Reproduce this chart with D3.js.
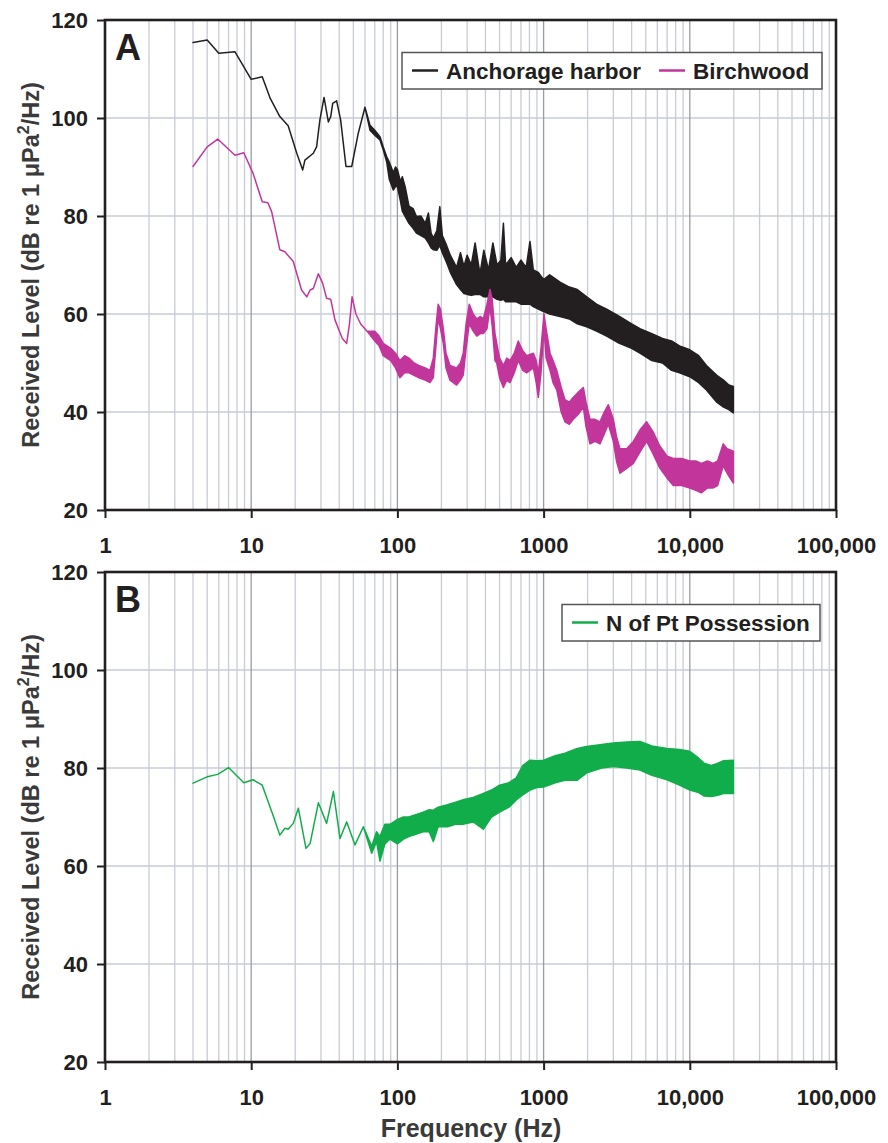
<!DOCTYPE html>
<html><head><meta charset="utf-8">
<script src="https://cdn.jsdelivr.net/npm/d3@7"></script>
<style>body{margin:0;background:#fff}svg{display:block}text{font-family:"Liberation Sans",Arial,sans-serif;font-weight:bold}</style>
</head><body>
<svg id="c" width="888" height="1143"></svg>
<script>
// ---- data ----
const xTicks = [1, 10, 100, 1000, 10000, 100000];
const xTickLabels = ["1", "10", "100", "1000", "10,000", "100,000"];
const yTicks = [20, 40, 60, 80, 100, 120];

const anchFreq = [4,5,6,7.75,10,11.9,13.5,15.7,17.9,20.5,22.5,23.3,26.6,28,29.5,31.5,33.7,35,36.1,38.4,40.9,44.5,48.7,54,60,65,70,76,80,84.5,88,93.8,97,100,105,108,113,120,128,135,145,155,163,170,176,186,195,203,217,230,254,270,285,300,320,340,367,390,420,450,480,510,531,550,600,650,700,760,807,850,920,1000,1100,1295,1500,1700,1972,2300,2700,3300,4000,4560,5500,6500,7500,8500,10000,11500,13000,15300,17000,18500,19860];
const anchHi = [115.4,115.9,113.2,113.5,107.9,108.4,104,100.3,98.4,92.8,89.4,91.4,92.8,94.1,99.6,104.2,99.2,100.3,103,103.5,99.6,90.1,90.1,96.9,102.2,98.5,97.5,96.2,94.1,92.1,91,88.8,90,89.5,87,88,86,82,81.5,79.9,80,78.5,80.6,76.5,75.5,77,81.9,76,74,72,69.5,72.5,69.7,72,70,74.5,68.2,73,69,74.5,70,71,78.5,70,71.5,69.5,71,69.5,74.8,69,68.5,67,68,66.5,65.5,65,63.5,62,61,59.5,58,57,56,55,54.5,53.5,52.7,51.5,49.5,47.5,46.5,45.5,45.2];
const anchLo = [115.4,115.9,113.2,113.5,107.9,108.4,104,100.3,98.4,92.8,89.4,91.4,92.8,94.1,99.6,104.2,99.2,100.3,103,103.5,99.6,90.1,90.1,96.9,102.2,97.5,96.5,95.5,93.5,91,87.5,85.3,86,86,83,81,79.9,78.5,77.5,76.5,76,75.5,74.5,73.5,73.1,73,74,72.5,70.5,68.5,66,65,64.2,64,63.8,64,64,63.5,63.5,63.5,63,62.8,63,62.5,62.5,62.5,62,62,62,61.5,61,60.5,60,59.5,59,58,57.4,56.5,55.5,54,53,52,50.5,50,48.5,48,47.2,46,44.5,42,41,40.5,39.8];

const birchFreq = [4,5,5.9,7.75,8.9,10.3,11.9,13,13.8,15.7,17,19.4,22.1,24,25.3,26.6,28.8,30.8,32.8,35,37.4,42,45,47,49,52,56,62,70,75,80,90,97,104,112,120,130,140,155,167,176,183,190,197,206,215,229,254,270,282,295,310,330,349,370,387,410,430,445,465,478,500,531,560,589,630,671,720,766,851,890,920,960,1006,1040,1107,1160,1230,1320,1400,1500,1597,1720,1870,1950,2077,2250,2430,2600,2770,3000,3150,3330,3700,4110,4600,5070,5600,6250,7000,7710,8800,10000,11000,12000,13200,14450,15500,16930,18000,19860];
const birchHi = [90.1,94.1,95.7,92.4,92.9,88.7,82.9,82.7,80.9,73.1,72.7,70.7,64.9,63.5,64.9,65.2,68.2,66.3,63.2,63,58.8,55,54,58,63.5,60,58,56.5,56.5,55.5,54,53,52,50.5,51.5,51,50,49.5,49,48.5,51,57,62,61,57,52,49.5,49,50,52,58,62,60,59,59.5,59,62,65,63,56,54,51,49.5,51,50.5,52,54.5,52.5,51.5,52,50.5,48,53,60,57,52,50.5,48.5,45,42.5,42,43,44,45,42,38.5,38.5,38,40,41.5,38.5,35,32.5,32.5,34,36.5,38,36,33,31,30.5,30.5,30,30,29.5,30,29.5,30,33.5,32.5,32];
const birchLo = [90.1,94.1,95.7,92.4,92.9,88.7,82.9,82.7,80.9,73.1,72.7,70.7,64.9,63.5,64.9,65.2,68.2,66.3,63.2,63,58.8,55,54,58,63.5,60,58,56.5,54.5,53.5,51.5,50.5,49,47,48,48,47.5,47,46.5,46,47,53,59,57,54,49,46.5,45.5,46.5,47.5,53,58,56.5,55.5,56,56,57,61.5,57.5,50.5,50,47,45,46.5,46,48,50.5,48.5,48,49,46,43,48,57,51,48.5,46,44.5,40,38,37.5,38.5,39.5,41,37,33.5,34,33.5,35.5,37.5,34,30,27.5,28.5,29.5,32,34,31.5,28.5,26.5,25,25,24.5,24,23.5,24.5,24.5,25,29,27.5,25.5];

const possFreq = [4,5,5.9,7,8.9,10.3,11.9,14.2,15.7,17,17.9,19.4,21,23.7,25.3,28.8,32.8,36.5,40.5,45,51.3,58.5,66.7,72,76,82,89,100,110,120,135,150,165,176,190,220,250,280,330,387,440,500,580,650,720,807,900,1000,1200,1400,1700,1972,2500,3000,3700,4560,5500,6980,8500,10000,11500,12500,14000,15300,17000,19860];
const possHi = [76.9,78.2,78.7,80.1,77,77.6,76.5,70.1,66.3,67.7,67.5,68.7,71.8,63.6,64.6,72.9,68.7,75.2,65.6,69,64.3,68,64,67,66,68.5,68.5,69.5,70,70,70.5,71,71.5,71.4,72,72.5,73,73.5,74,74.8,75.5,76.5,77,78,80.5,81.6,81.5,81.6,82.5,83,84,84.4,84.8,85.1,85.3,85.4,84.5,84,83.8,83.4,82,81,80.5,80.9,81.5,81.6];
const possLo = [76.9,78.2,78.7,80.1,77,77.6,76.5,70.1,66.3,67.7,67.5,68.7,71.8,63.6,64.6,72.9,68.7,75.2,65.6,69,64.3,68,62.6,65,61,64.5,65.5,64.5,65.5,66,66.5,67,67,65,68,68,68.5,68.5,69,67.5,70,71,72,73.5,74.5,75.5,76,76.1,77,77.5,77.5,79,80,80.3,80,79.6,78.5,77.6,76.5,75.5,75,74.3,74.2,74.4,74.8,74.8];

const seriesA = [
  {name: "Anchorage harbor", color: "#231f20", f: anchFreq, hi: anchHi, lo: anchLo},
  {name: "Birchwood", color: "#c2369b", f: birchFreq, hi: birchHi, lo: birchLo}
];
const seriesB = [
  {name: "N of Pt Possession", color: "#12ad4b", f: possFreq, hi: possHi, lo: possLo}
];

// ---- drawing ----
const svg = d3.select("#c");
const x = d3.scaleLog().domain([1, 100000]).range([105, 836]);
const FONT = '"Liberation Sans",Arial,sans-serif';

function minorTicks() {
  const out = [];
  for (let d = 1; d < 100000; d *= 10) for (let k = 2; k <= 9; k++) out.push(d * k);
  return out;
}

function panel(top, bottom, label, series, legend, idx) {
  const y = d3.scaleLinear().domain([20, 120]).range([bottom, top]);
  const g = svg.append("g");
  const clipId = "clip" + idx;
  svg.append("clipPath").attr("id", clipId).append("rect")
    .attr("x", 105).attr("y", top).attr("width", 731).attr("height", bottom - top);

  // grid
  g.selectAll(".hg").data(yTicks.slice(1, -1)).join("line")
    .attr("x1", 105).attr("x2", 836).attr("y1", d => y(d)).attr("y2", d => y(d))
    .attr("stroke", "#c8ccd6").attr("stroke-width", 1.3);
  g.selectAll(".mg").data(minorTicks()).join("line")
    .attr("x1", d => x(d)).attr("x2", d => x(d)).attr("y1", top).attr("y2", bottom)
    .attr("stroke", "#c8ccd6").attr("stroke-width", 1.3);
  g.selectAll(".Mg").data(xTicks.slice(1, -1)).join("line")
    .attr("x1", d => x(d)).attr("x2", d => x(d)).attr("y1", top).attr("y2", bottom)
    .attr("stroke", "#9a9ca3").attr("stroke-width", 1.3);

  // data
  const dg = g.append("g").attr("clip-path", `url(#${clipId})`);
  series.forEach(s => {
    const pts = s.f.map((f, i) => ({f, hi: s.hi[i], lo: s.lo[i]}));
    const area = d3.area().x(d => x(d.f)).y0(d => y(d.lo)).y1(d => y(d.hi));
    dg.append("path").datum(pts).attr("d", area)
      .attr("fill", s.color).attr("stroke", s.color).attr("stroke-width", 1.5)
      .attr("stroke-linejoin", "round");
  });

  // frame
  g.append("rect").attr("x", 105).attr("y", top).attr("width", 731).attr("height", bottom - top)
    .attr("fill", "none").attr("stroke", "#231f20").attr("stroke-width", 2.6);

  // y axis
  const ya = g.append("g").attr("transform", "translate(105,0)")
    .call(d3.axisLeft(y).tickValues(yTicks).tickSize(8).tickPadding(9).tickFormat(d3.format("d")));
  ya.select(".domain").remove();
  ya.selectAll("line").attr("stroke", "#231f20").attr("stroke-width", 2);
  ya.selectAll("text").attr("font-size", 22).attr("fill", "#231f20")
    .style("font-family", FONT).style("font-weight", "bold");

  // x axis
  const xa = g.append("g").attr("transform", `translate(0,${bottom})`)
    .call(d3.axisBottom(x).tickValues(xTicks).tickSize(8).tickPadding(19)
      .tickFormat((d, i) => xTickLabels[i]));
  xa.select(".domain").remove();
  xa.selectAll("line").attr("stroke", "#231f20").attr("stroke-width", 2);
  xa.selectAll("text").attr("font-size", 22).attr("fill", "#231f20")
    .style("font-family", FONT).style("font-weight", "bold");

  // y title
  const cy = (top + bottom) / 2;
  const t = g.append("text").attr("transform", `translate(39,${cy}) rotate(-90)`)
    .attr("text-anchor", "middle").attr("font-size", 23.5).attr("fill", "#3a3a3a");
  t.append("tspan").text("Received Level (dB re 1 \u03bcPa");
  t.append("tspan").attr("font-size", 16).attr("dy", -10).text("2");
  t.append("tspan").attr("dy", 10).text("/Hz)");

  // panel label
  g.append("text").attr("x", 115).attr("y", top + 40).attr("font-size", 36)
    .attr("fill", "#231f20").text(label);

  // legend
  const lg = g.append("g");
  lg.append("rect").attr("x", legend.x).attr("y", top + 32.5).attr("width", legend.w).attr("height", 36.5)
    .attr("fill", "#fff").attr("stroke", "#555").attr("stroke-width", 1.5);
  let cx = legend.x + 10;
  series.forEach((s, i) => {
    lg.append("line").attr("x1", cx).attr("x2", cx + 26).attr("y1", top + 50.5).attr("y2", top + 50.5)
      .attr("stroke", s.color).attr("stroke-width", 2.5);
    const tx = lg.append("text").attr("x", cx + 34).attr("y", top + 58.5).attr("font-size", 22.5)
      .attr("fill", "#231f20").text(s.name);
    cx = cx + 34 + tx.node().getComputedTextLength() + 18;
  });
}

panel(20, 510, "A", seriesA, {x: 402, w: 420}, 0);
panel(572, 1062, "B", seriesB, {x: 562, w: 258}, 1);

svg.append("text").attr("x", 471).attr("y", 1137).attr("text-anchor", "middle")
  .attr("font-size", 25).attr("fill", "#3a3a3a").text("Frequency (Hz)");
</script>
</body></html>
